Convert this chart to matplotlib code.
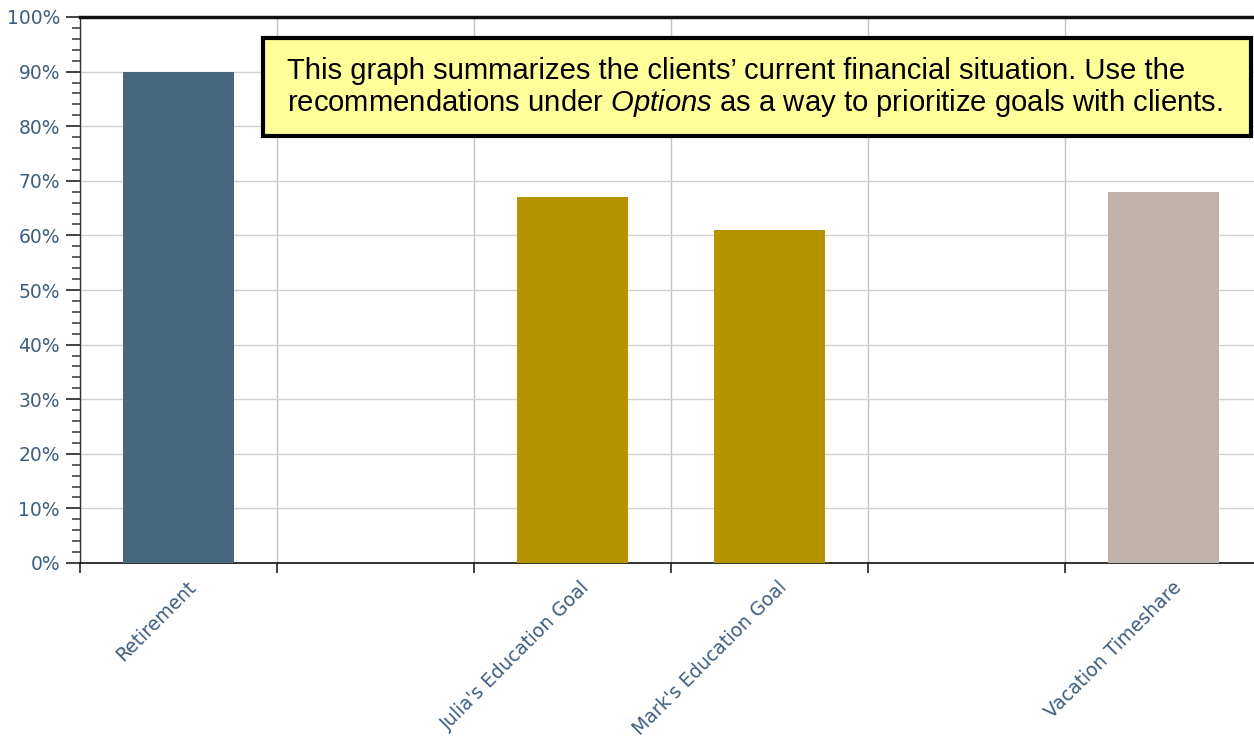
import matplotlib
matplotlib.use("Agg")
import matplotlib.pyplot as plt
from matplotlib.patches import Rectangle
from matplotlib.ticker import MultipleLocator, PercentFormatter

plt.rcParams["mathtext.fontset"] = "custom"
plt.rcParams["mathtext.rm"] = "Liberation Sans"
plt.rcParams["mathtext.it"] = "Liberation Sans:italic"

# Goal funding status (percent funded); empty slots keep the category spacing
categories = ["Retirement", "", "Julia's Education Goal", "Mark's Education Goal", "", "Vacation Timeshare"]
funded_pct = [90, 0, 67, 61, 0, 68]
bar_colors = ["#46677D", "#FFFFFF", "#B59400", "#B59400", "#FFFFFF", "#BFB2AA"]
note_lines = [
    "This graph summarizes the clients\u2019 current financial situation. Use the",
    "recommendations under $\\it{Options}$ as a way to prioritize goals with clients.",
]

W, H = 1254, 736
PX = 72 / 100  # points per pixel at 100 dpi
fig = plt.figure(figsize=(W / 100, H / 100), dpi=100)
ax = fig.add_axes([80 / W, (H - 563) / H, (W - 80) / W, 546 / H])

label_color = "#3F5E7E"
x = list(range(len(categories)))
drawn = [i for i, v in enumerate(funded_pct) if v > 0]
ax.bar([x[i] for i in drawn], [funded_pct[i] for i in drawn], width=0.565,
       color=[bar_colors[i] for i in drawn], zorder=3)

ax.set_xlim(-0.5, -0.5 + (W - 80) / 197)
ax.set_ylim(0, 100)

# vertical grid at slot boundaries, horizontal grid every 10%
bounds = [i - 0.5 for i in range(len(categories))]
ax.set_xticks(bounds)
ax.set_xticklabels([])
ax.tick_params(axis="x", which="major", length=10 * PX, width=1.2, color="#222222", direction="out")
ax.grid(axis="x", which="major", color="#C4C4C4", linewidth=1.0, zorder=0)

# category names, slanted under each slot
for xi, name in zip(x, categories):
    if name:
        ax.annotate(name, xy=(xi, 0), xycoords=("data", "axes fraction"),
                    xytext=(8 * PX, -15 * PX), textcoords="offset points",
                    rotation=45, rotation_mode="anchor", ha="right", va="top",
                    color=label_color, fontsize=13.5, annotation_clip=False)

ax.yaxis.set_major_locator(MultipleLocator(10))
ax.yaxis.set_minor_locator(MultipleLocator(2))
ax.yaxis.set_major_formatter(PercentFormatter(decimals=0))
ax.tick_params(axis="y", which="major", length=14 * PX, width=1.2, color="#222222",
               labelcolor=label_color, labelsize=13.5, pad=6 * PX)
ax.tick_params(axis="y", which="minor", length=8 * PX, width=1.2, color="#444444")
ax.grid(axis="y", which="major", color="#D0D0D0", linewidth=1.0, zorder=0)

ax.spines["right"].set_visible(False)
ax.spines["top"].set_linewidth(2.5)
ax.spines["top"].set_color("#111111")
ax.spines["left"].set_linewidth(1.0)
ax.spines["left"].set_color("#333333")
ax.spines["bottom"].set_linewidth(1.2)
ax.spines["bottom"].set_color("#111111")

# note box
bx0, bx1, by0, by1 = 263, 1251, 38, 136
fig.patches.append(Rectangle((bx0 / W, (H - by1) / H), (bx1 - bx0) / W, (by1 - by0) / H,
                             transform=fig.transFigure, facecolor="#FFFF99",
                             edgecolor="black", linewidth=3.0, zorder=10))
for baseline, line in zip((79, 111), note_lines):
    fig.text(287 / W, (H - baseline) / H, line, fontsize=21.1, family="Liberation Sans",
             color="black", va="baseline", ha="left", zorder=11)

fig.savefig("out.png", dpi=100)
